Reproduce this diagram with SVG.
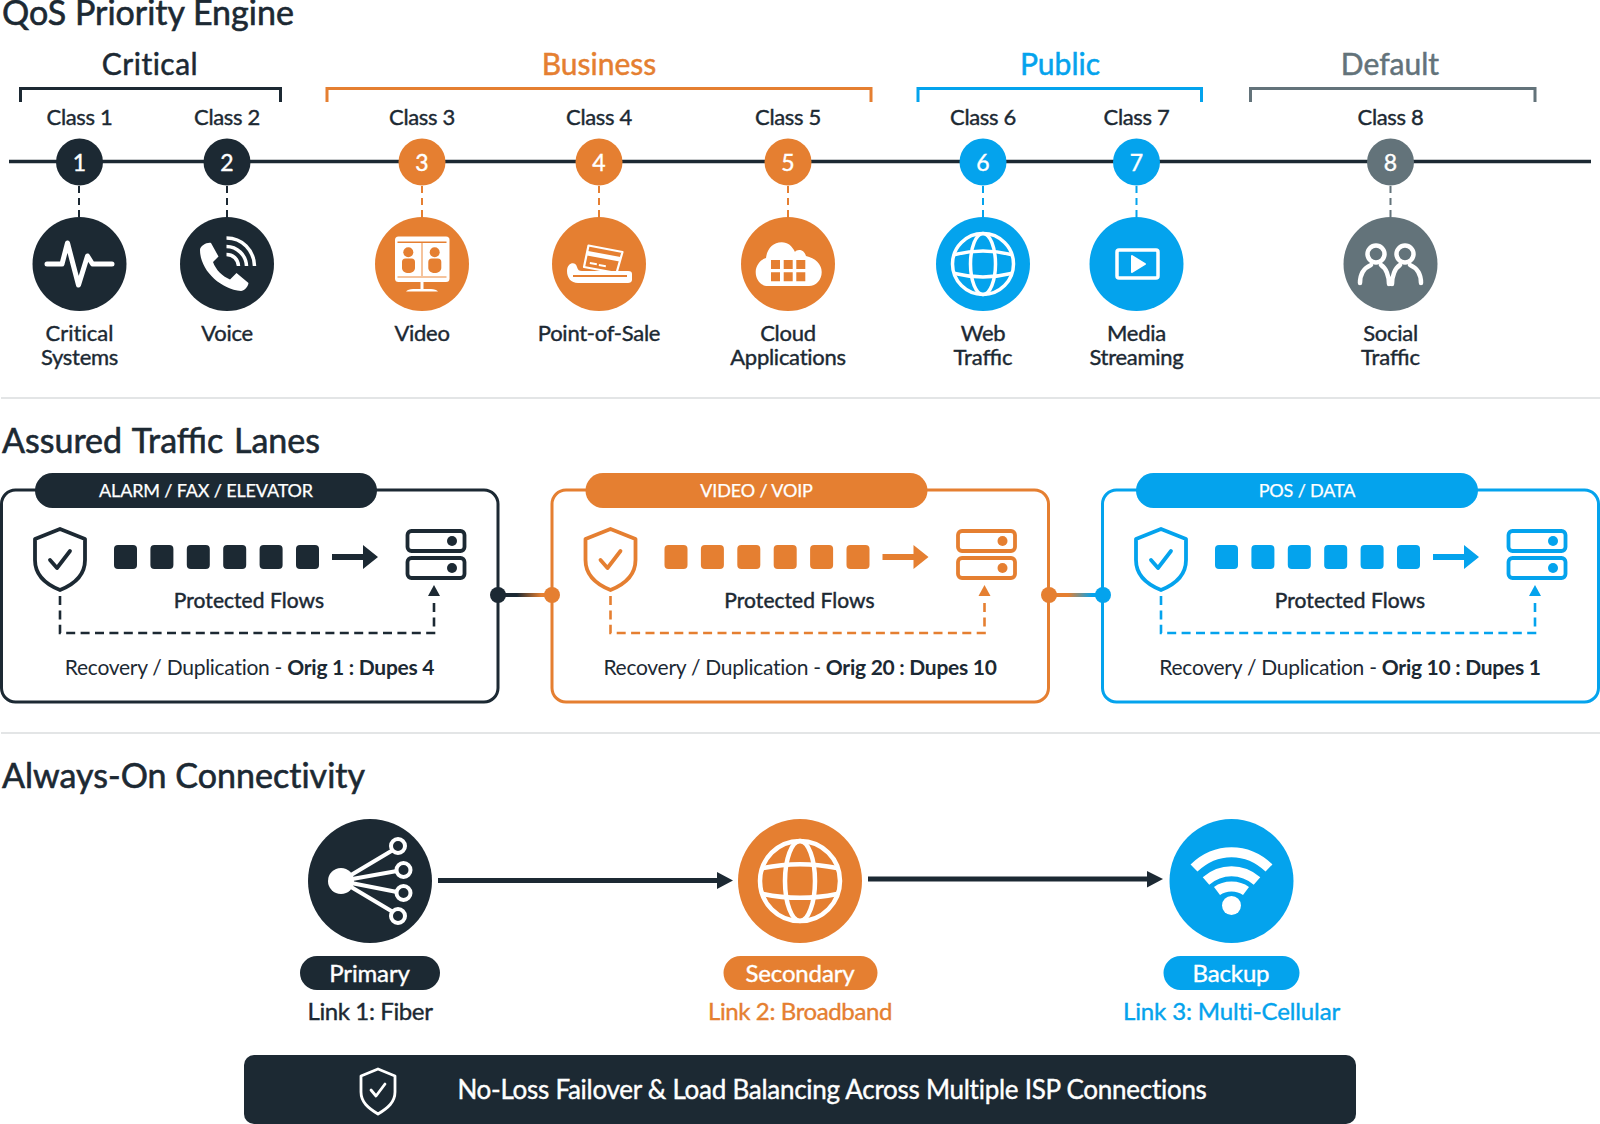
<svg xmlns="http://www.w3.org/2000/svg" width="1600" height="1124" viewBox="0 0 1600 1124">
<style>
text{font-family:Lato,"Liberation Sans",sans-serif;fill:#1c2933;stroke:#1c2933;stroke-width:.4px;text-anchor:middle;font-weight:400}
.h{font-size:34px;text-anchor:start;stroke-width:.6px}
.t{font-size:30px;stroke-width:.5px;letter-spacing:.01px}
.c{font-size:22px;letter-spacing:-.35px}
.l{font-size:22px;letter-spacing:-.27px}
.k{color:#1c2933}.o{color:#e57f31}.b{color:#04a3ed}.g{color:#63737a}
text.o{fill:#e57f31;stroke:#e57f31}text.b{fill:#04a3ed;stroke:#04a3ed}text.g{fill:#63737a;stroke:#63737a}
.f{fill:currentColor}
.s{fill:none;stroke:currentColor}
.iw{fill:none;stroke:#fff;stroke-width:3.5;stroke-linecap:round;stroke-linejoin:round}
.n{font-size:23px;fill:#fff;stroke:#fff}
.m{font-size:24px;fill:#fff;stroke:#fff;letter-spacing:-.15px}
.li{font-size:24px;letter-spacing:-.38px}
.br{fill:none;stroke-width:3;stroke:currentColor}
.dd{fill:none;stroke:currentColor;stroke-width:2.6;stroke-dasharray:9 5.4}
.p{font-size:18px;fill:#fff;stroke:#fff;stroke-width:.25px;letter-spacing:-.15px}
.pf{font-size:21px;letter-spacing:.05px;stroke-width:.45px}
.r{font-size:21px;stroke:none;letter-spacing:-.27px}
.r tspan{font-weight:700}
.ban{font-size:26px;fill:#fff;stroke:#fff;letter-spacing:-.27px}
.d{stroke:#e3e5e6;stroke-width:2}
.or{fill:#e57f31}
</style>
<defs>
<linearGradient id="g1" x1="498" x2="552" y1="0" y2="0" gradientUnits="userSpaceOnUse"><stop offset=".35" stop-color="#1c2933"/><stop offset=".8" stop-color="#e57f31"/></linearGradient>
<linearGradient id="g2" x1="1049" x2="1103" y1="0" y2="0" gradientUnits="userSpaceOnUse"><stop offset=".35" stop-color="#e57f31"/><stop offset=".8" stop-color="#04a3ed"/></linearGradient>
<g id="lane">
<g class="f"><rect x="114" y="545" width="23" height="24" rx="4"/><rect x="150.400" y="545" width="23" height="24" rx="4"/><rect x="186.800" y="545" width="23" height="24" rx="4"/><rect x="223.200" y="545" width="23" height="24" rx="4"/><rect x="259.600" y="545" width="23" height="24" rx="4"/><rect x="296" y="545" width="23" height="24" rx="4"/></g>
<path class="f" d="M332 554h31v-9l15 12-15 12v-9h-31z"/>
<path class="s" stroke-width="3.800" stroke-linejoin="round" d="M60 529l25 10v21c0 14-10 24-25 30-15-6-25-16-25-30v-21z"/>
<path class="s" stroke-width="3.800" stroke-linecap="round" stroke-linejoin="round" d="M50 560l7 8 13-17"/>
<rect class="s" stroke-width="3.800" x="407.500" y="531" width="57" height="20" rx="4"/>
<rect class="s" stroke-width="3.800" x="407.500" y="558" width="57" height="20" rx="4"/>
<circle class="f" cx="452" cy="541" r="5"/><circle class="f" cx="452" cy="568" r="5"/>
<path class="dd" d="M60 596v37h374v-33"/>
<path class="f" d="M434 585l6 11h-12z"/>
<text class="pf" x="249" y="608">Protected Flows</text>
</g>
</defs>
<rect width="1600" height="1124" fill="#fff"/>

<text class="h" x="2" y="25">QoS Priority Engine</text>
<g id="groups">
<g class="k"><text x="150" y="75" class="t" style="letter-spacing:.5px">Critical</text><path class="br" d="M20.500 102V88.500H280.500V102"/></g>
<g class="o"><text x="599" y="75" class="t o">Business</text><path class="br" d="M327 102V88.500H871V102"/></g>
<g class="b"><text x="1060" y="75" class="t b">Public</text><path class="br" d="M918 102V88.500H1201.500V102"/></g>
<g class="g"><text x="1390" y="75" class="t g">Default</text><path class="br" d="M1250.500 102V88.500H1535V102"/></g>
</g>

<g id="connectors">
<path d="M9 161.500H1591" stroke="#1c2933" stroke-width="3.500"/>
<g stroke-width="2" stroke-dasharray="7 5" fill="none">
<path d="M79 186V217M227 186V217" stroke="#1c2933"/>
<path d="M422 186V217M599 186V217M788 186V217" stroke="#e57f31"/>
<path d="M983 186V217M1136.500 186V217" stroke="#04a3ed"/>
<path d="M1390.500 186V217" stroke="#63737a"/>
</g>
<path d="M498 595H552" stroke="url(#g1)" stroke-width="4"/>
<path d="M1049 595H1103" stroke="url(#g2)" stroke-width="4"/>
<path fill="#1c2933" d="M438 878H717V872L733 880.500 717 889V883H438zM868 876.500H1147V871L1163 879 1147 887.500V881.500H868z"/>
</g>

<g id="class1" class="k"><text class="c" x="79.500" y="125">Class 1</text><circle class="f" cx="79.500" cy="162" r="23.500"/><text class="n" x="79.500" y="171">1</text><circle class="f" cx="79.500" cy="264" r="47"/>
<path class="iw" style="stroke-width:5" d="M47 264H62L67.500 243 78.500 285 87.500 256 92.500 264H112"/>
<text class="l" x="79.500" y="341" style="letter-spacing:.03px">Critical</text><text class="l" x="79.500" y="364.500">Systems</text></g>

<g id="class2" class="k"><text class="c" x="227" y="125">Class 2</text><circle class="f" cx="227" cy="162" r="23.500"/><text class="n" x="227" y="171">2</text><circle class="f" cx="227" cy="264" r="47"/>
<path fill="#fff" d="M200 250C200 246 207 242 211 243L218.500 256.500 213 262C216 270 222 276 230 279.500L236.500 273 248.500 283C248 287 244 291 241 291 220 289 200 270 200 250z"/>
<path fill="none" stroke="#fff" stroke-width="3.500" d="M226.500 238C242 238 254 250 254.500 266M226.500 246.500C237 246.500 246 255 246.500 266M226.500 254.500C233 254.500 238 259 238.500 266"/>
<text class="l" x="227" y="341">Voice</text></g>

<g id="class3" class="o"><text class="c" x="422" y="125">Class 3</text><circle class="f" cx="422" cy="162" r="23.500"/><text class="n" x="422" y="171">3</text><circle class="f" cx="422" cy="264" r="47"/>
<rect x="395" y="236.500" width="54.500" height="45.500" rx="3.500" fill="#fff"/>
<path fill="#fff" d="M420.500 281H423.500V289H431C434 289 437 290 438 291.500H406C407 290 410 289 413 289H420.500z"/>
<path class="or" d="M397.500 241.500H446.500V243H397.500z"/>
<path fill="#f5c39c" d="M397.500 276H446.500V278H397.500zM421 243H423V276H421z"/>
<circle class="or" cx="408.300" cy="252.300" r="5"/><circle class="or" cx="434.700" cy="252.300" r="5"/>
<path class="or" d="M402 262a3.500 3.500 0 0 1 3.500-3.500H411.500a3.500 3.500 0 0 1 3.500 3.500V268C415 271 412 273 408.500 273S402 271 402 268zM428.300 262a3.500 3.500 0 0 1 3.500-3.500H437.800a3.500 3.500 0 0 1 3.500 3.500V268C441.300 271 438 273 434.800 273S428.300 271 428.300 268z"/>
<text class="l" x="422" y="341">Video</text></g>

<g id="class4" class="o"><text class="c" x="599" y="125">Class 4</text><circle class="f" cx="599" cy="162" r="23.500"/><text class="n" x="599" y="171">4</text><circle class="f" cx="599" cy="264" r="47"/>
<path fill="#fff" d="M567 271C567 262 576 261 577 267 578 270 579 271 582 271H628C631 271 632 272 632 274V280C632 282 630 283 628 283H578C571 283 567 278 567 271z"/>
<path class="or" d="M573 275H627V277H573z"/>
<path fill="none" stroke="#fff" stroke-width="2.200" stroke-linejoin="round" d="M588.500 245.500L622.500 252 616.500 273 584 267z"/>
<path fill="#fff" d="M588 251L620.500 257 619.500 261.500 587 255.500zM590 262l7 1.200-.300 2-7-1.200zM599 264l7 1.200-.300 2-7-1.200z"/>
<text class="l" x="599" y="341">Point-of-Sale</text></g>

<g id="class5" class="o"><text class="c" x="788" y="125">Class 5</text><circle class="f" cx="788" cy="162" r="23.500"/><text class="n" x="788" y="171">5</text><circle class="f" cx="788" cy="264" r="47"/>
<path fill="#fff" d="M768 286C760 286 755.700 279 755.700 272 755.700 265 761 259 766 258 767 249 773 242.300 781.700 242.300 788 242.300 792 246 795 252 797 249 804 249 806 256 815 258 821.700 264 821.700 272 821.700 280 816 286 809 286z"/>
<path class="or" d="M771 260h9v9h-9zM783.700 260h9v9h-9zM796.300 260h9v9h-9zM771 272.300h9v9h-9zM783.700 272.300h9v9h-9zM796.300 272.300h9v9h-9z"/>
<text class="l" x="788" y="341">Cloud</text><text class="l" x="788" y="364.500">Applications</text></g>

<g id="class6" class="b"><text class="c" x="983" y="125">Class 6</text><circle class="f" cx="983" cy="162" r="23.500"/><text class="n" x="983" y="171">6</text><circle class="f" cx="983" cy="264" r="47"/>
<g class="iw"><circle cx="983" cy="264" r="30.500"/><ellipse cx="983" cy="264" rx="12.500" ry="30.500"/><path d="M955 254.500C973 250 993 250 1011 254.500M955 273.500C973 278 993 278 1011 273.500"/></g>
<text class="l" x="983" y="341">Web</text><text class="l" style="letter-spacing:0" x="983" y="364.500">Traffic</text></g>

<g id="class7" class="b"><text class="c" x="1136.500" y="125">Class 7</text><circle class="f" cx="1136.500" cy="162" r="23.500"/><text class="n" x="1136.500" y="171">7</text><circle class="f" cx="1136.500" cy="264" r="47"/>
<rect x="1117" y="250" width="41" height="28" rx="2" fill="none" stroke="#fff" stroke-width="3.500"/>
<path fill="#fff" stroke="#fff" stroke-width="2" stroke-linejoin="round" d="M1132 256L1145 264 1132 272z"/>
<text class="l" x="1136.500" y="341">Media</text><text class="l" x="1136.500" y="364.500">Streaming</text></g>

<g id="class8" class="g"><text class="c" x="1390.500" y="125">Class 8</text><circle class="f" cx="1390.500" cy="162" r="23.500"/><text class="n" x="1390.500" y="171">8</text><circle class="f" cx="1390.500" cy="264" r="47"/>
<g class="iw" style="stroke-width:4.500"><circle cx="1376" cy="254" r="8.500"/><circle cx="1405" cy="254" r="8.500"/>
<path d="M1360 283C1360 274 1364 268 1371 265M1381 265C1386 268 1389 276 1389 284M1421 283C1421 274 1417 268 1410 265M1400 265C1395 268 1392 276 1392 284"/></g>
<text class="l" x="1390.500" y="341">Social</text><text class="l" style="letter-spacing:0" x="1390.500" y="364.500">Traffic</text></g>

<path class="d" d="M1 398H1600M1 733H1600"/>
<text class="h" x="2" y="453" style="word-spacing:2px">Assured Traffic Lanes</text>

<g id="lane1" class="k"><rect class="s" stroke-width="3" x="1.500" y="490" width="496.500" height="212" rx="14" fill="#fff"/><rect class="f" x="35" y="473" width="342" height="35" rx="17.500"/><text class="p" x="206" y="497">ALARM / FAX / ELEVATOR</text>
<use href="#lane"/><text class="r" x="249.500" y="675">Recovery / Duplication - <tspan>Orig 1 : Dupes 4</tspan></text></g>

<g id="lane2" class="o"><rect class="s" stroke-width="3" x="552" y="490" width="496.500" height="212" rx="14" fill="#fff"/><rect class="f" x="585.500" y="473" width="342" height="35" rx="17.500"/><text class="p" x="756.500" y="497">VIDEO / VOIP</text>
<use href="#lane" x="550.500"/><text class="r" x="800" y="675">Recovery / Duplication - <tspan>Orig 20 : Dupes 10</tspan></text></g>

<g id="lane3" class="b"><rect class="s" stroke-width="3" x="1102.500" y="490" width="496" height="212" rx="14" fill="#fff"/><rect class="f" x="1136" y="473" width="342" height="35" rx="17.500"/><text class="p" x="1307" y="497">POS / DATA</text>
<use href="#lane" x="1101"/><text class="r" x="1350" y="675">Recovery / Duplication - <tspan>Orig 10 : Dupes 1</tspan></text></g>

<g id="joints"><circle cx="498" cy="595" r="8" fill="#1c2933"/><circle cx="552" cy="595" r="8" fill="#e57f31"/><circle cx="1049" cy="595" r="8" fill="#e57f31"/><circle cx="1103" cy="595" r="8" fill="#04a3ed"/></g>

<text class="h" x="2" y="788" style="letter-spacing:.02px">Always-On Connectivity</text>

<g id="primary" class="k"><circle class="f" cx="370" cy="881" r="62"/>
<g fill="none" stroke="#fff" stroke-width="4"><path d="M341 881L393 850M341 881L397 871M341 881L397 892M341 881L393 912"/><circle cx="398" cy="846" r="7"/><circle cx="403.500" cy="870" r="7"/><circle cx="403.500" cy="893" r="7"/><circle cx="398" cy="916" r="7"/></g>
<circle cx="341" cy="881" r="13" fill="#fff"/>
<rect class="f" x="300" y="956" width="140" height="34" rx="17"/><text class="m" x="369.500" y="981.500">Primary</text><text class="li" x="370" y="1020">Link 1: Fiber</text></g>

<g id="secondary" class="o"><circle class="f" cx="800" cy="881" r="62"/>
<g class="iw" style="stroke-width:4.500"><circle cx="800" cy="881" r="40"/><ellipse cx="800" cy="881" rx="15" ry="40"/><path d="M763 868C787 863 813 863 837 868M763 894C787 899 813 899 837 894"/></g>
<rect class="f" x="723.500" y="956" width="154" height="34" rx="17"/><text class="m" x="800" y="981.500">Secondary</text><text class="li o" x="800" y="1020">Link 2: Broadband</text></g>

<g id="backup" class="b"><circle class="f" cx="1231.500" cy="881" r="62"/>
<g fill="none" stroke="#fff" stroke-width="10"><path d="M1194 868C1216 847 1247 847 1269 868M1206 881C1221 868 1242 868 1257 881M1217 891C1225 885 1238 885 1246 891"/></g>
<circle cx="1231.500" cy="905.500" r="9.500" fill="#fff"/>
<rect class="f" x="1163.500" y="956" width="136" height="34" rx="17"/><text class="m" x="1231" y="981.500">Backup</text><text class="li b" x="1231.500" y="1020" style="letter-spacing:-.12px">Link 3: Multi-Cellular</text></g>

<g id="banner"><rect x="244" y="1055" width="1112" height="69" rx="10" fill="#1c2933"/>
<path fill="none" stroke="#fff" stroke-width="2.800" stroke-linejoin="round" d="M378 1069l17 7v16c0 10-7 16-17 22-10-6-17-12-17-22v-16z"/>
<path fill="none" stroke="#fff" stroke-width="2.800" stroke-linecap="round" stroke-linejoin="round" d="M371 1090l5 6 9-12"/>
<text class="ban" x="832" y="1099">No-Loss Failover &amp; Load Balancing Across Multiple ISP Connections</text></g>
</svg>
